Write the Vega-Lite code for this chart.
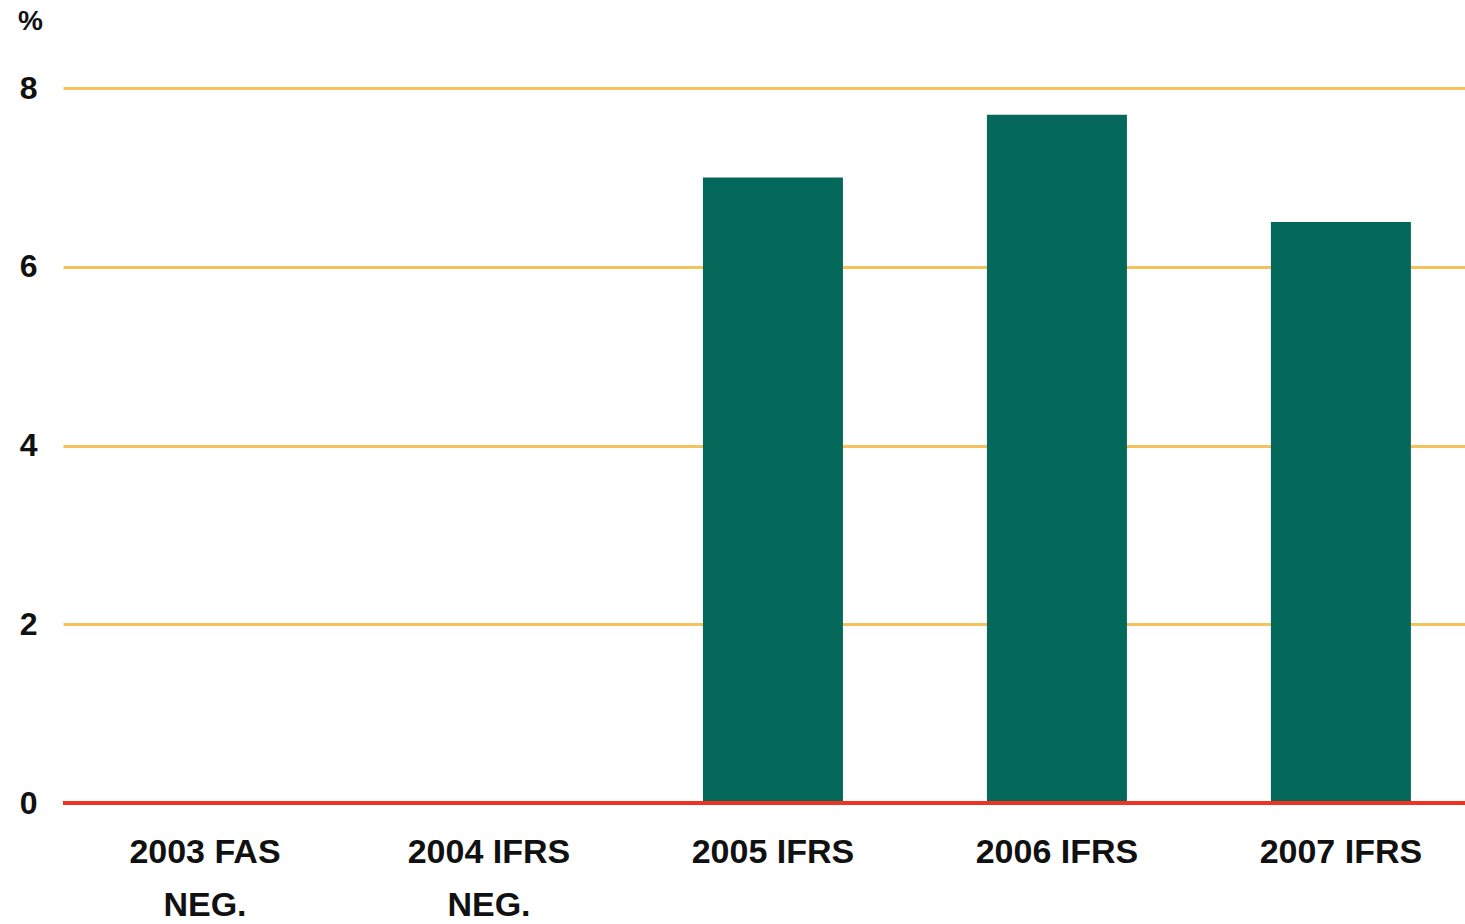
{
  "$schema": "https://vega.github.io/schema/vega-lite/v6.json",
  "autosize": "none",
  "width": 1402,
  "height": 715,
  "padding": {"left": 63, "top": 88, "right": 0, "bottom": 121},
  "background": "white",
  "config": {
    "view": {"stroke": null},
    "font": "Liberation Sans"
  },
  "data": {
    "values": [
      {"period": "2003 FAS", "value": null},
      {"period": "2004 IFRS", "value": null},
      {"period": "2005 IFRS", "value": 7.0},
      {"period": "2006 IFRS", "value": 7.7},
      {"period": "2007 IFRS", "value": 6.5}
    ]
  },
  "layer": [
    {
      "mark": {"type": "bar", "color": "#04695a"},
      "encoding": {
        "x": {
          "field": "period",
          "type": "nominal",
          "sort": null,
          "scale": {
            "domain": ["2003 FAS", "2004 IFRS", "2005 IFRS", "2006 IFRS", "2007 IFRS"],
            "paddingInner": 0.507,
            "paddingOuter": 0.222,
            "align": 0.571
          },
          "axis": {
            "title": null,
            "domain": false,
            "ticks": false,
            "labelAngle": 0,
            "labelPadding": 32,
            "labelFont": "Liberation Sans",
            "labelFontWeight": "bold",
            "labelFontSize": 34,
            "labelColor": "#111111",
            "labelLineHeight": 53,
            "labelExpr": "indexof(['2003 FAS','2004 IFRS'], datum.value) >= 0 ? [datum.value, 'NEG.'] : datum.value"
          }
        },
        "y": {
          "field": "value",
          "type": "quantitative",
          "scale": {"domain": [0, 8], "nice": false},
          "axis": {
            "title": "%",
            "titleAngle": 0,
            "titleX": -33,
            "titleY": -67,
            "titleAlign": "center",
            "titleBaseline": "middle",
            "titleFont": "Liberation Sans",
            "titleFontWeight": "bold",
            "titleFontSize": 28,
            "titleColor": "#111111",
            "values": [0, 2, 4, 6, 8],
            "format": "d",
            "domain": false,
            "ticks": false,
            "labelPadding": 26,
            "labelFont": "Liberation Sans",
            "labelFontWeight": "bold",
            "labelFontSize": 32,
            "labelColor": "#111111",
            "grid": true,
            "gridColor": "#f6c25e",
            "gridWidth": 3
          }
        }
      }
    },
    {
      "mark": {"type": "rule", "color": "#ee3320", "strokeWidth": 4},
      "encoding": {"y": {"datum": 0}}
    }
  ]
}
